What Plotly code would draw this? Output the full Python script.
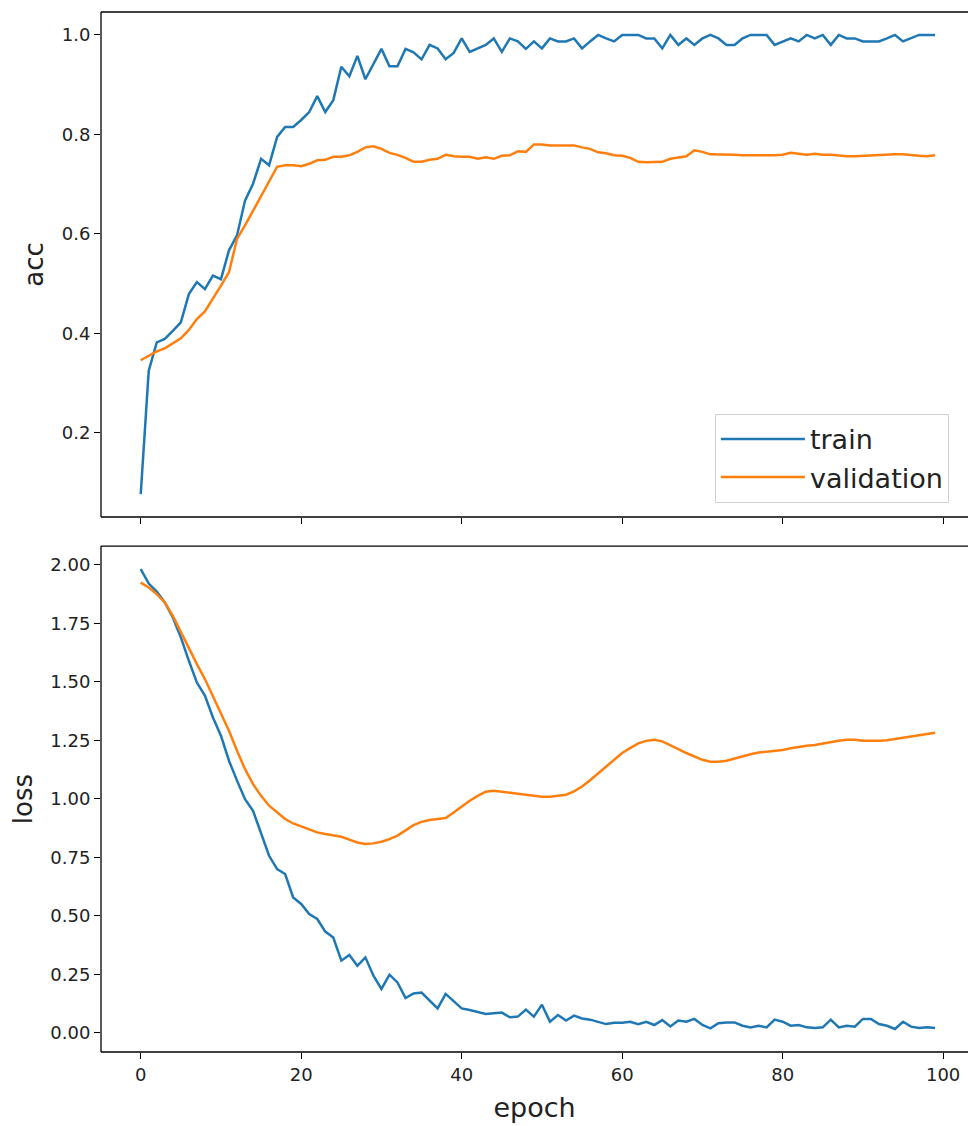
import plotly.graph_objects as go
from plotly.subplots import make_subplots

epochs = list(range(100))

train_acc = [0.077, 0.325, 0.382, 0.389, 0.405, 0.422, 0.479, 0.503, 0.489, 0.516,
             0.509, 0.567, 0.597, 0.667, 0.701, 0.751, 0.738, 0.795, 0.815, 0.815,
             0.829, 0.845, 0.877, 0.845, 0.869, 0.936, 0.917, 0.958, 0.911, 0.943,
             0.972, 0.937, 0.937, 0.972, 0.965, 0.951, 0.980, 0.973, 0.951, 0.964,
             0.993, 0.966, 0.973, 0.980, 0.993, 0.966, 0.993, 0.987, 0.972, 0.987,
             0.973, 0.993, 0.987, 0.987, 0.993, 0.973, 0.987, 1.000, 0.993, 0.987,
             1.000, 1.000, 1.000, 0.993, 0.993, 0.973, 1.000, 0.980, 0.993, 0.980,
             0.993, 1.000, 0.993, 0.980, 0.980, 0.993, 1.000, 1.000, 1.000, 0.980,
             0.987, 0.993, 0.987, 1.000, 0.993, 1.000, 0.980, 1.000, 0.993, 0.993,
             0.987, 0.987, 0.987, 0.993, 1.000, 0.987, 0.993, 1.000, 1.000, 1.000]

val_acc = [0.346, 0.355, 0.364, 0.370, 0.380, 0.390, 0.407, 0.429, 0.444, 0.469,
           0.496, 0.523, 0.590, 0.617, 0.647, 0.677, 0.708, 0.735, 0.738, 0.738,
           0.736, 0.741, 0.748, 0.749, 0.755, 0.755, 0.758, 0.765, 0.774, 0.776,
           0.771, 0.763, 0.759, 0.753, 0.745, 0.745, 0.749, 0.751, 0.759, 0.756,
           0.755, 0.755, 0.751, 0.754, 0.751, 0.757, 0.758, 0.766, 0.765, 0.780,
           0.780, 0.778, 0.778, 0.778, 0.778, 0.774, 0.771, 0.764, 0.762, 0.758,
           0.757, 0.753, 0.745, 0.744, 0.744, 0.745, 0.751, 0.754, 0.756, 0.768,
           0.765, 0.760, 0.760, 0.760, 0.759, 0.758, 0.758, 0.757, 0.757, 0.758,
           0.759, 0.763, 0.761, 0.759, 0.761, 0.759, 0.759, 0.757, 0.756, 0.756,
           0.757, 0.758, 0.759, 0.760, 0.760, 0.760, 0.758, 0.757, 0.756, 0.758]

train_loss = [1.982, 1.920, 1.886, 1.839, 1.775, 1.690, 1.590, 1.497, 1.441, 1.348,
              1.270, 1.163, 1.078, 0.999, 0.949, 0.850, 0.757, 0.700, 0.679, 0.579,
              0.551, 0.508, 0.487, 0.433, 0.408, 0.309, 0.333, 0.287, 0.323, 0.245,
              0.188, 0.249, 0.216, 0.149, 0.169, 0.173, 0.141, 0.105, 0.167, 0.134,
              0.105, 0.098, 0.088, 0.081, 0.084, 0.087, 0.067, 0.070, 0.100, 0.070,
              0.121, 0.048, 0.077, 0.053, 0.074, 0.062, 0.057, 0.048, 0.038, 0.044,
              0.044, 0.048, 0.038, 0.048, 0.034, 0.055, 0.028, 0.053, 0.048, 0.060,
              0.034, 0.020, 0.042, 0.045, 0.045, 0.031, 0.024, 0.031, 0.024, 0.057,
              0.048, 0.031, 0.034, 0.024, 0.021, 0.024, 0.057, 0.024, 0.031, 0.027,
              0.060, 0.060, 0.038, 0.031, 0.017, 0.048, 0.027, 0.021, 0.024, 0.021]

val_loss = [1.924, 1.903, 1.875, 1.839, 1.782, 1.711, 1.647, 1.576, 1.512, 1.440,
            1.369, 1.291, 1.206, 1.127, 1.063, 1.013, 0.971, 0.942, 0.914, 0.895,
            0.882, 0.868, 0.857, 0.850, 0.843, 0.838, 0.826, 0.814, 0.807, 0.810,
            0.817, 0.828, 0.843, 0.867, 0.888, 0.902, 0.910, 0.914, 0.918, 0.942,
            0.968, 0.992, 1.013, 1.031, 1.035, 1.031, 1.026, 1.023, 1.016, 1.012,
            1.009, 1.009, 1.012, 1.018, 1.032, 1.053, 1.080, 1.109, 1.139, 1.170,
            1.196, 1.217, 1.237, 1.248, 1.253, 1.246, 1.231, 1.213, 1.196, 1.180,
            1.167, 1.159, 1.159, 1.163, 1.173, 1.184, 1.191, 1.198, 1.201, 1.206,
            1.209, 1.216, 1.223, 1.227, 1.230, 1.237, 1.241, 1.248, 1.253, 1.253,
            1.248, 1.247, 1.248, 1.251, 1.256, 1.260, 1.265, 1.271, 1.277, 1.283]

series_names = ["train", "validation"]
colors = ["#1f77b4", "#ff7f0e"]
x_ticks = [0, 20, 40, 60, 80, 100]


def padded(*arrs):
    lo = min(min(a) for a in arrs)
    hi = max(max(a) for a in arrs)
    span = hi - lo
    return [lo - 0.05 * span, hi + 0.05 * span]


FONT = "DejaVu Sans, Liberation Sans, sans-serif"
fig = make_subplots(rows=2, cols=1, shared_xaxes=True, vertical_spacing=0.028)

for name, col, ys in zip(series_names, colors, [train_acc, val_acc]):
    fig.add_trace(go.Scatter(x=epochs, y=ys, mode="lines", name=name,
                             line=dict(color=col, width=2.5)), row=1, col=1)
for name, col, ys in zip(series_names, colors, [train_loss, val_loss]):
    fig.add_trace(go.Scatter(x=epochs, y=ys, mode="lines", name=name, showlegend=False,
                             line=dict(color=col, width=2.5)), row=2, col=1)

axis_common = dict(showline=False, mirror=False,
                   ticks="outside", ticklen=6, tickwidth=1.3, tickcolor="black",
                   showgrid=False, zeroline=False,
                   tickfont=dict(family=FONT, size=18, color="#222"))

x_range = [padded(epochs)[0], 103.1]
fig.update_xaxes(**axis_common, range=x_range, tickvals=x_ticks)
fig.update_xaxes(showticklabels=False, row=1, col=1)
fig.update_xaxes(title=dict(text="epoch", font=dict(family=FONT, size=27, color="#222"),
                            standoff=14), row=2, col=1)

fig.update_yaxes(**axis_common)
fig.update_yaxes(range=padded(train_acc, val_acc), dtick=0.2, tick0=0, tickformat=".1f",
                 domain=[0.5144, 1.0],
                 title=dict(text="acc", font=dict(family=FONT, size=26, color="#222"),
                            standoff=10), row=1, col=1)
fig.update_yaxes(range=padded(train_loss, val_loss), dtick=0.25, tick0=0, tickformat=".2f",
                 domain=[0.0, 0.4865],
                 title=dict(text="loss", font=dict(family=FONT, size=26, color="#222"),
                            standoff=10), row=2, col=1)

# frame (left, top, bottom spines; right spine is outside the cropped view)
for xa, ya in [("x", "y"), ("x2", "y2")]:
    for x0, y0, x1, y1 in [(0, 0, 0, 1), (0, 1, 1, 1), (0, 0, 1, 0)]:
        fig.add_shape(type="line", xref=f"{xa} domain", yref=f"{ya} domain",
                      x0=x0, y0=y0, x1=x1, y1=y1,
                      line=dict(color="black", width=1.3), layer="above")

fig.update_layout(
    width=968, height=1126,
    margin=dict(l=101, r=0, t=12, b=74),
    plot_bgcolor="white", paper_bgcolor="white",
    font=dict(family=FONT, color="#222"),
    legend=dict(x=0.978, xanchor="right", y=0.528, yanchor="bottom",
                bgcolor="white", bordercolor="#d0d0d0", borderwidth=1,
                itemwidth=84, tracegroupgap=4,
                font=dict(family=FONT, size=27, color="#222")),
)

fig.write_html("out.html", config={"displayModeBar": False},
               post_script=("document.body.style.margin='0';"
                            "document.body.style.overflow='hidden';"
                            "document.documentElement.style.overflow='hidden';"))
